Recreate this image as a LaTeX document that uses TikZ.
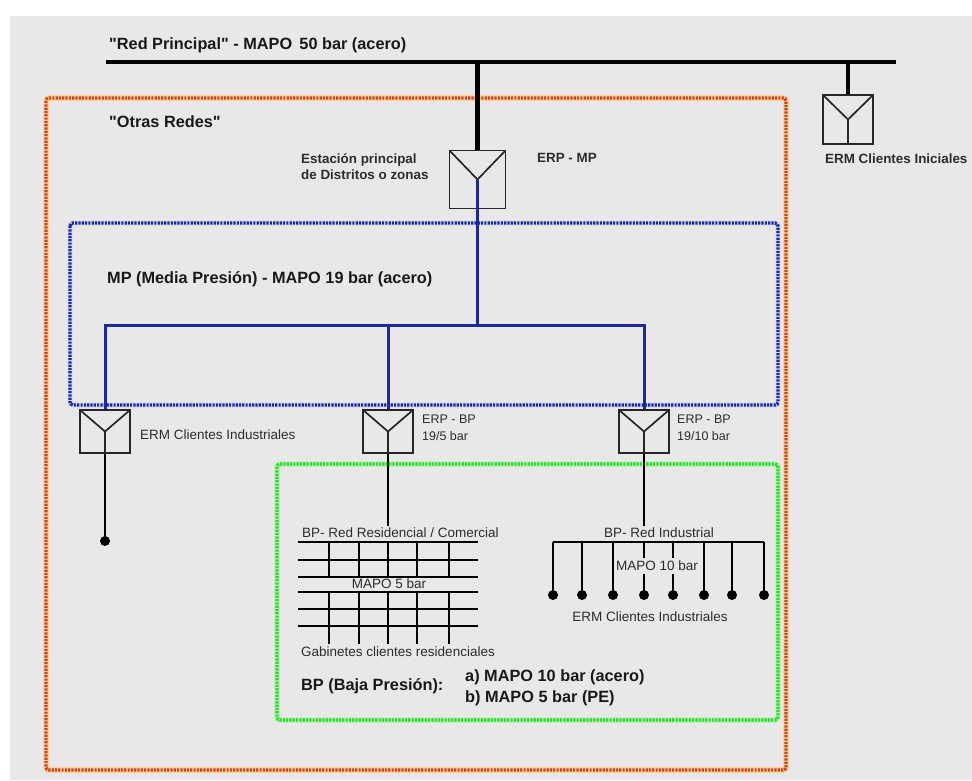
\documentclass[tikz,border=0pt]{standalone}
\usepackage{fontspec}
\setmainfont[Ligatures=TeXOff]{Liberation Sans}
\usetikzlibrary{positioning}
\definecolor{fondo}{HTML}{E8E8E8}
\definecolor{naranja}{HTML}{C8481C}
\definecolor{azul}{HTML}{1A2A9C}
\definecolor{verde}{HTML}{2ED82E}
\definecolor{texto}{HTML}{2C2C2C}

\begin{document}
\begin{tikzpicture}[
    x=1pt, y=-1pt,
    zona/.style={line width=3.4pt, dash pattern=on 2.2pt off 1.1pt, rounded corners=3pt},
    regulador/.style={rectangle, draw=black!85, line width=1.7pt, inner sep=0pt, minimum width=50pt, minimum height=43pt,
        path picture={\draw[black!85, line width=1.7pt] (path picture bounding box.north west) -- (path picture bounding box.center) -- (path picture bounding box.north east) (path picture bounding box.center) -- (path picture bounding box.south);}},
    etiqueta/.style={anchor=west, inner sep=0pt, font=\fontsize{13.5}{17}\selectfont, text=texto, align=left},
    negrita/.style={anchor=west, inner sep=0pt, font=\fontsize{13.4}{16}\selectfont\bfseries, text=texto, align=left},
    titulo/.style={anchor=west, inner sep=0pt, font=\fontsize{16.3}{21}\selectfont\bfseries, text=black!90, align=left},
    gruesa/.style={line width=4.4pt, black},
    media/.style={line width=3pt, azul},
    fina/.style={line width=2.7pt, black},
    punto/.style={circle, fill=black, inner sep=0pt, minimum size=10pt}
]
\useasboundingbox (0,0) rectangle (972,780);
\fill[fondo] (10,16) rectangle (972,780);

\draw[zona, orange!35, line width=6pt, dash pattern=] (46,98) rectangle (786,770);
\draw[zona, naranja] (46,98) rectangle (786,770);
\draw[zona, azul!15, line width=5.5pt, dash pattern=] (70,223) rectangle (778,405);
\draw[zona, azul] (70,223) rectangle (778,405);
\draw[zona, verde!35, line width=5.5pt, dash pattern=] (277,464) rectangle (778,720);
\draw[zona, verde] (277,464) rectangle (778,720);

\node[titulo] (redprincipal) at (109,45) {"Red Principal" - MAPO\, 50 bar (acero)};
\node[titulo] (otrasredes) at (109,122) {"Otras Redes"};
\node[titulo] (mediapresion) at (107,279) {MP (Media Presión) - MAPO 19 bar (acero)};

\coordinate (red0) at (106,62);
\coordinate (red1) at (896,62);
\coordinate (red2) at (477.5,62);
\coordinate (red3) at (848,62);
\draw[gruesa] (red0) -- (red1);

\node[regulador, minimum width=56pt, minimum height=58pt] (erpmp) at (477.5,179.5) {};
\node[regulador, minimum height=49pt] (erminiciales) at (848,119.5) {};
\node[regulador] (ermindustriales) at (105,431.5) {};
\node[regulador] (erpcinco) at (388,431.5) {};
\node[regulador] (erpdiez) at (644,431.5) {};
\draw[gruesa] (red2) -- (erpmp.north);
\draw[gruesa] (red3) -- (erminiciales.north);

\node[negrita] (estacion) at (301,167) {Estación principal\\de Distritos o zonas};
\node[negrita] (erpmplabel) at (537,158) {ERP - MP};
\node[negrita] (iniciales) at (825,159) {ERM Clientes Iniciales};
\node[etiqueta] (industriales) at (140,435) {ERM Clientes Industriales};
\node[etiqueta, font=\fontsize{12.5}{17}\selectfont] (erpcincolabel) at (422,427.5) {ERP - BP\\19/5 bar};
\node[etiqueta, font=\fontsize{12.5}{17}\selectfont] (erpdiezlabel) at (677,427.5) {ERP - BP\\19/10 bar};

\coordinate (cruce) at (477.5,325);
\coordinate (ramal0) at (105,325);
\coordinate (ramal1) at (388,325);
\coordinate (ramal2) at (644,325);
\draw[media] (erpmp.center) -- (cruce);
\draw[media] (ermindustriales.north) -- (ramal0) -- (ramal2) -- (erpdiez.north);
\draw[media] (ramal1) -- (erpcinco.north);

\node[punto] (finindustrial) at (105,541) {};
\coordinate (red5) at (388,526);
\coordinate (red10) at (644,526);
\draw[fina] (ermindustriales.south) -- (finindustrial);
\draw[fina] (erpcinco.south) -- (red5);
\draw[fina] (erpdiez.south) -- (red10);

\node[etiqueta] (residencial) at (302,533) {BP- Red Residencial / Comercial};
\foreach \i/\y in {1/542, 2/560, 3/577, 4/592, 5/609, 6/626} {
    \coordinate (izq\i) at (298,\y);
    \coordinate (der\i) at (478,\y);
    \draw[fina] (izq\i) -- (der\i);
}
\foreach \i/\x in {1/329, 2/359, 3/388, 4/417, 5/449} {
    \coordinate (arriba\i) at (\x,542);
    \coordinate (medio\i) at (\x,577);
    \coordinate (bajo\i) at (\x,592);
    \coordinate (abajo\i) at (\x,644);
    \draw[fina] (arriba\i) -- (medio\i);
    \draw[fina] (bajo\i) -- (abajo\i);
}
\node[etiqueta, anchor=center] (mapocinco) at (389,584) {MAPO 5 bar};
\node[etiqueta] (gabinetes) at (301,652) {Gabinetes clientes residenciales};

\node[etiqueta, anchor=center] (redindustrial) at (659,533) {BP- Red Industrial};
\coordinate (colector0) at (553,542);
\coordinate (colector1) at (764,542);
\draw[fina] (colector0) -- (colector1);
\foreach \i/\x in {1/553, 2/582, 3/613, 4/644, 5/673, 6/704, 7/732, 8/764} {
    \coordinate (toma\i) at (\x,542);
    \node[punto] (cliente\i) at (\x,595) {};
    \draw[fina] (toma\i) -- (cliente\i);
}
\node[etiqueta, anchor=center, fill=fondo, inner ysep=3pt, inner xsep=1pt] (mapodiez) at (657,566) {MAPO 10 bar};
\node[etiqueta, anchor=center] (clientes) at (650,617) {ERM Clientes Industriales};

\node[titulo] (bajapresion) at (301,686) {BP (Baja Presión):};
\node[titulo] (mapos) at (465,687.5) {a) MAPO 10 bar (acero)\\b) MAPO 5 bar (PE)};
\end{tikzpicture}
\end{document}
